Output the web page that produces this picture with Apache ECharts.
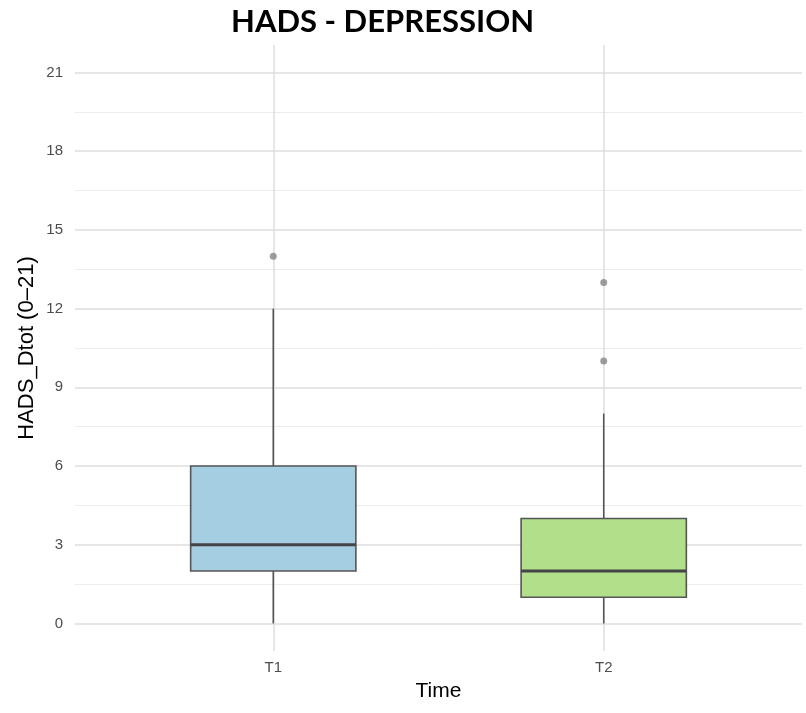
<!DOCTYPE html>
<html>
<head>
<meta charset="utf-8">
<script src="https://cdn.jsdelivr.net/npm/echarts@6/dist/echarts.min.js"></script>
<style>
  html, body { margin: 0; padding: 0; background: #fff; }
  #chart { width: 806px; height: 713px; }
</style>
</head>
<body>
<div id="chart"></div>
<script>
  // data
  const categories = ['T1', 'T2'];
  const mins = [0, 0];
  const q1s = [2, 1];
  const medians = [3, 2];
  const q3s = [6, 4];
  const maxs = [12, 8];
  const outliers = [['T1', 14], ['T2', 13], ['T2', 10]];
  const yMajorTicks = [0, 3, 6, 9, 12, 15, 18, 21];
  const yMinorTicks = [1.5, 4.5, 7.5, 10.5, 13.5, 16.5, 19.5];

  const fills = ['#a6cee3', '#b2df8a'];
  const boxData = categories.map((c, i) => [i + 1, mins[i], q1s[i], medians[i], q3s[i], maxs[i]]);
  const outlierData = outliers.map(o => [categories.indexOf(o[0]) + 1, o[1]]);

  const chart = echarts.init(document.getElementById('chart'));

  const option = {
    backgroundColor: '#fff',
    animation: false,
    title: {
      text: 'HADS - DEPRESSION',
      left: 226,
      top: 1,
      textStyle: {
        fontFamily: 'Lato',
        fontWeight: 'bold',
        fontSize: 31,
        color: '#000'
      }
    },
    grid: { left: 75, right: 4, top: 45, bottom: 62, containLabel: false },
    xAxis: {
      type: 'value',
      min: 0.4,
      max: 2.6,
      name: 'Time',
      nameLocation: 'middle',
      nameGap: 30,
      nameTextStyle: { fontFamily: 'Liberation Sans', fontSize: 21, color: '#000' },
      axisLine: { show: false },
      axisTick: { show: false, customValues: [1, 2] },
      axisLabel: {
        customValues: [1, 2],
        formatter: v => categories[Math.round(v) - 1],
        margin: 9,
        fontFamily: 'Liberation Sans',
        fontSize: 15,
        color: '#4d4d4d'
      },
      splitLine: { show: true, lineStyle: { color: '#dedede', width: 1.5 } }
    },
    yAxis: [
      {
        type: 'value',
        min: -1.05,
        max: 22.05,
        name: 'HADS_Dtot (0–21)',
        nameLocation: 'middle',
        nameGap: 37,
        nameMoveOverlap: false,
        nameTextStyle: { fontFamily: 'Liberation Sans', fontSize: 22, color: '#000' },
        axisLine: { show: false },
        axisTick: { show: false, customValues: yMajorTicks },
        axisLabel: {
          customValues: yMajorTicks,
          margin: 12,
          fontFamily: 'Liberation Sans',
          fontSize: 15,
          color: '#4d4d4d'
        },
        splitLine: { show: true, lineStyle: { color: '#dedede', width: 1.5 } }
      },
      {
        type: 'value',
        min: -1.05,
        max: 22.05,
        position: 'left',
        axisLine: { show: false },
        axisTick: { show: false, customValues: yMinorTicks },
        axisLabel: { show: false, customValues: yMinorTicks },
        splitLine: { show: true, lineStyle: { color: '#ececec', width: 1 } }
      }
    ],
    series: [
      {
        type: 'custom',
        data: boxData,
        encode: { x: 0, y: [1, 2, 3, 4, 5] },
        renderItem: function (params, api) {
          const x = api.value(0);
          const pMin = api.coord([x, api.value(1)]);
          const pQ1 = api.coord([x, api.value(2)]);
          const pMed = api.coord([x, api.value(3)]);
          const pQ3 = api.coord([x, api.value(4)]);
          const pMax = api.coord([x, api.value(5)]);
          const w = api.size([0.5, 0])[0];
          const cx = pMed[0];
          const edge = '#555555';
          return {
            type: 'group',
            children: [
              { type: 'line', shape: { x1: cx, y1: pQ3[1], x2: cx, y2: pMax[1] }, style: { stroke: edge, lineWidth: 1.6 } },
              { type: 'line', shape: { x1: cx, y1: pMin[1], x2: cx, y2: pQ1[1] }, style: { stroke: edge, lineWidth: 1.6 } },
              { type: 'rect', shape: { x: cx - w / 2, y: pQ3[1], width: w, height: pQ1[1] - pQ3[1] },
                style: { fill: fills[params.dataIndex], stroke: edge, lineWidth: 1.6 } },
              { type: 'line', shape: { x1: cx - w / 2, y1: pMed[1], x2: cx + w / 2, y2: pMed[1] }, style: { stroke: '#444444', lineWidth: 3 } }
            ]
          };
        }
      },
      {
        type: 'scatter',
        data: outlierData,
        symbol: 'circle',
        symbolSize: 7,
        itemStyle: { color: '#858585' }
      }
    ]
  };

  chart.setOption(option);
</script>
</body>
</html>
